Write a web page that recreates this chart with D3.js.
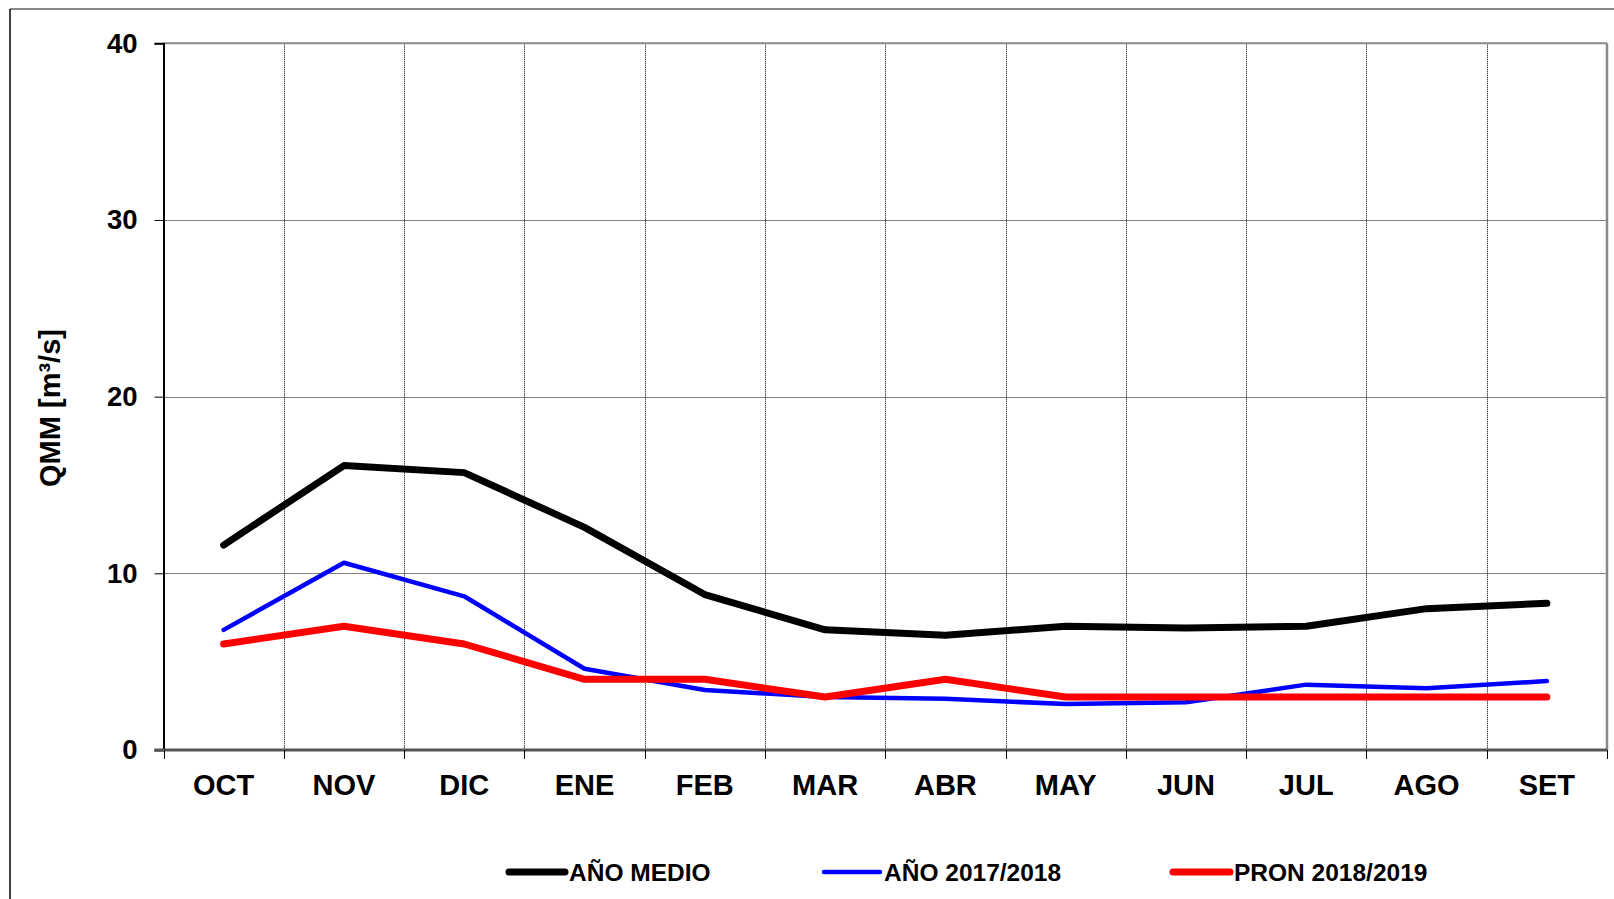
<!DOCTYPE html>
<html>
<head>
<meta charset="utf-8">
<script src="https://cdn.jsdelivr.net/npm/d3@7"></script>
<style>
  html, body { margin: 0; padding: 0; background: #fff; }
  svg { display: block; }
  text { font-family: "Liberation Sans", Arial, Helvetica, sans-serif; font-weight: bold; fill: #000; }
</style>
</head>
<body>
<script>
const months = ["OCT","NOV","DIC","ENE","FEB","MAR","ABR","MAY","JUN","JUL","AGO","SET"];
const anoMedio = [11.6, 16.1, 15.7, 12.6, 8.8, 6.8, 6.5, 7.0, 6.9, 7.0, 8.0, 8.3];
const ano20172018 = [6.8, 10.6, 8.7, 4.6, 3.4, 3.0, 2.9, 2.6, 2.7, 3.7, 3.5, 3.9];
const pron20182019 = [6.0, 7.0, 6.0, 4.0, 4.0, 3.0, 4.0, 3.0, 3.0, 3.0, 3.0, 3.0];
const yTicks = [0, 10, 20, 30, 40];
const seriesNames = ["AÑO MEDIO", "AÑO 2017/2018", "PRON 2018/2019"];
const yTitle = "QMM [m³/s]";

const W = 1614, H = 899;
const L = 163.5, R = 1607, T = 43.3, B = 750;

const svg = d3.select("body").append("svg").attr("width", W).attr("height", H);

// outer frame
svg.append("line").attr("x1", 10).attr("x2", W).attr("y1", 9).attr("y2", 9)
  .attr("stroke", "#888").attr("stroke-width", 2);
svg.append("line").attr("x1", 10).attr("x2", 10).attr("y1", 9).attr("y2", H)
  .attr("stroke", "#000").attr("stroke-width", 1.5);

const x = d3.scaleBand().domain(months).range([L, R]).padding(0);
const y = d3.scaleLinear().domain([0, 40]).range([B, T]);
const cx = m => x(m) + x.bandwidth() / 2;
const snap = v => Math.round(v) + 0.5;

// horizontal grid
svg.append("g").selectAll("line").data(yTicks.filter(t => t > 0 && t < 40)).join("line")
  .attr("x1", L).attr("x2", R).attr("y1", d => snap(y(d))).attr("y2", d => snap(y(d)))
  .attr("stroke", "#000").attr("stroke-width", 1).attr("stroke-dasharray", "1,1");
// vertical grid
svg.append("g").selectAll("line").data(months.slice(1)).join("line")
  .attr("x1", d => snap(x(d))).attr("x2", d => snap(x(d))).attr("y1", T).attr("y2", B)
  .attr("stroke", "#000").attr("stroke-width", 1).attr("stroke-dasharray", "1,1");

// plot frame top & right (gray)
svg.append("line").attr("x1", L).attr("x2", R).attr("y1", T).attr("y2", T)
  .attr("stroke", "#888").attr("stroke-width", 2);
svg.append("line").attr("x1", R).attr("x2", R).attr("y1", T).attr("y2", B)
  .attr("stroke", "#888").attr("stroke-width", 2.5);

// y axis
const yAxis = d3.axisLeft(y).tickValues(yTicks).tickSize(9).tickPadding(17).tickFormat(d3.format("d"));
const gy = svg.append("g").attr("transform", `translate(${L},0)`).call(yAxis);
gy.select(".domain").attr("stroke", "#000").attr("stroke-width", 2);
gy.selectAll(".tick line").attr("stroke", "#000").attr("stroke-width", 1);
gy.selectAll(".tick text").style("font-size", "27.5px").style("font-family", "'Liberation Sans', Arial, sans-serif")
  .style("font-weight", "bold").attr("fill", "#000");

// x axis baseline (thick gray)
svg.append("line").attr("x1", L - 9).attr("x2", R).attr("y1", B).attr("y2", B)
  .attr("stroke", "#555").attr("stroke-width", 3);
// x tick marks at category boundaries
const bounds = months.map(m => x(m)).concat([R]);
svg.append("g").selectAll("line").data(bounds).join("line")
  .attr("x1", d => snap(d)).attr("x2", d => snap(d)).attr("y1", B).attr("y2", B + 9)
  .attr("stroke", "#000").attr("stroke-width", 1);
// x labels
svg.append("g").selectAll("text").data(months).join("text")
  .attr("x", d => cx(d)).attr("y", 795)
  .attr("text-anchor", "middle").style("font-size", "29px").text(d => d);

// y title
svg.append("text").attr("transform", "translate(50,408) rotate(-90)")
  .attr("text-anchor", "middle").attr("dy", "0.35em").style("font-size", "29px").text(yTitle);

// series lines
const series = [
  { name: seriesNames[0], values: anoMedio, color: "#000", width: 7 },
  { name: seriesNames[1], values: ano20172018, color: "#0000ff", width: 4.5 },
  { name: seriesNames[2], values: pron20182019, color: "#ff0000", width: 7 }
];
const line = d3.line().x((d, i) => cx(months[i])).y(d => y(d));
svg.append("g").selectAll("path").data(series).join("path")
  .attr("d", d => line(d.values)).attr("fill", "none")
  .attr("stroke", d => d.color).attr("stroke-width", d => d.width)
  .attr("stroke-linejoin", "round").attr("stroke-linecap", "round");

// legend
const legendPos = [
  { x1: 509, x2: 565, tx: 569 },
  { x1: 824, x2: 880, tx: 884 },
  { x1: 1173, x2: 1230, tx: 1234 }
];
const lg = svg.append("g");
series.forEach((s, i) => {
  const p = legendPos[i];
  lg.append("line").attr("x1", p.x1).attr("x2", p.x2).attr("y1", 872).attr("y2", 872)
    .attr("stroke", s.color).attr("stroke-width", i === 1 ? 4.5 : 7).attr("stroke-linecap", "round");
  lg.append("text").attr("x", p.tx).attr("y", 872).attr("dy", "0.35em")
    .style("font-size", "24.5px").text(s.name);
});
</script>
</body>
</html>
